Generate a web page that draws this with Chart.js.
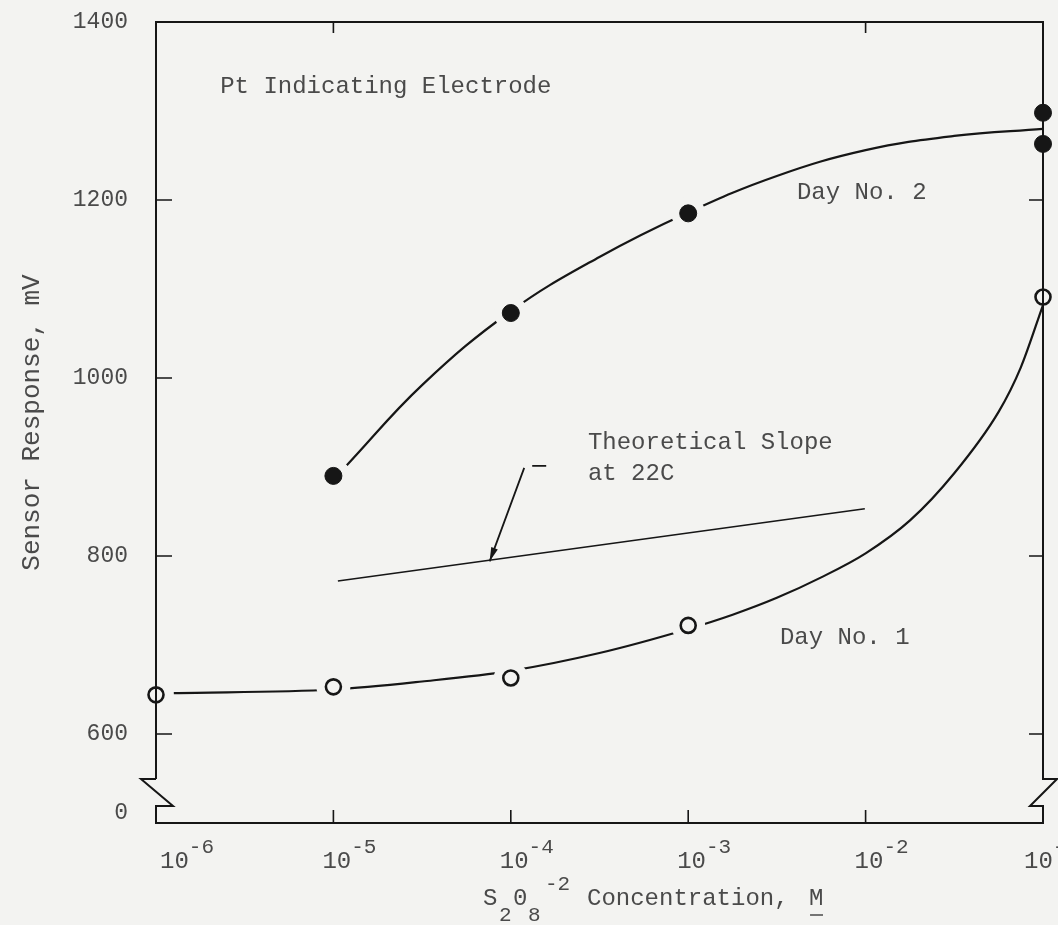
<!DOCTYPE html>
<html>
<head>
<meta charset="utf-8">
<script src="https://cdn.jsdelivr.net/npm/chart.js@4.4.1/dist/chart.umd.min.js"></script>
<style>
  html, body { margin: 0; padding: 0; background: #f3f3f1; }
  #wrap { width: 1058px; height: 925px; position: relative; }
</style>
</head>
<body>
<div id="wrap"><canvas id="c"></canvas></div>
<script>
// ---------------- data ----------------
const xTickValues    = [1e-6, 1e-5, 1e-4, 1e-3, 1e-2, 1e-1];
const xTickExponents = ['-6', '-5', '-4', '-3', '-2', '-1'];
// "0" sits just above the broken bottom of the axis (value 511 on the plotted scale)
const yTickValues = [511, 600, 800, 1000, 1200, 1400];
const yTickLabels = ['0', '600', '800', '1000', '1200', '1400'];
// inner tick marks drawn on each side of the frame
const leftTickValues   = [600, 800, 1000, 1200];
const rightTickValues  = [600, 800, 1200];
const bottomTickValues = [1e-5, 1e-4, 1e-3, 1e-2];
const topTickValues    = [1e-5, 1e-2];

// measured points
const day1Conc = [1e-6, 1e-5, 1e-4, 1e-3, 1e-1];
const day1Resp = [644, 653, 663, 722, 1091];
const day2Conc = [1e-5, 1e-4, 1e-3, 1e-1, 1e-1];
const day2Resp = [890, 1073, 1185, 1298, 1263];

// hand-drawn fitted curves
const day1CurveConc = [1.26e-6, 1e-5, 3.16e-5, 1e-4, 3.16e-4, 1e-3, 1.78e-3, 3.16e-3, 5.62e-3, 1e-2, 1.78e-2, 3.16e-2, 5.62e-2, 7.5e-2, 1e-1];
const day1CurveResp = [646, 650, 659, 671, 691, 718, 734, 753, 776, 803, 840, 893, 962, 1012, 1082];
const day2CurveConc = [1.19e-5, 3.16e-5, 1e-4, 3.16e-4, 1e-3, 3.16e-3, 1e-2, 3.16e-2, 1e-1];
const day2CurveResp = [902, 992, 1075, 1136, 1186, 1227, 1256, 1272, 1280];

// theoretical slope line at 22C
const theoConc = [1.06e-5, 9.9e-3];
const theoResp = [772, 853];

// annotation arrow (tail -> head), data units
const arrowConc = [1.19e-4, 7.6e-5];
const arrowResp = [899, 794];

// text annotations (anchor = left, middle), data units
const noteTexts = ['Pt Indicating Electrode', 'Day No. 2', 'Day No. 1', 'Theoretical Slope', 'at 22C'];
const noteConc  = [2.3e-6, 4.1e-3, 3.29e-3, 2.72e-4, 2.72e-4];
const noteResp  = [1327, 1208, 708, 927, 892];

const yTitle = 'Sensor Response, mV';

// ---------------- styles ----------------
const BG = '#f3f3f1';
const INK = '#161616';
const TXT = '#4a4a4a';
const FONT = "'Liberation Mono', 'DejaVu Sans Mono', monospace";

const toXY = (xs, ys) => xs.map((v, i) => ({ x: v, y: ys[i] }));
const allPoints = toXY(day1Conc, day1Resp).concat(toXY(day2Conc, day2Resp));

const framePlugin = {
  id: 'frame',
  beforeDraw(chart) {
    const { ctx, width, height } = chart;
    ctx.save();
    ctx.fillStyle = BG;
    ctx.fillRect(0, 0, width, height);
    ctx.restore();
  },
  afterDatasetsDraw(chart) {
    const { ctx, chartArea: { left, right, top, bottom }, scales: { x, y } } = chart;
    ctx.save();
    ctx.strokeStyle = INK;
    ctx.lineWidth = 2;
    ctx.lineJoin = 'miter';
    const zTop = bottom - 44, zBot = bottom - 17;
    ctx.beginPath();
    ctx.moveTo(left, zTop);
    ctx.lineTo(left, top);
    ctx.lineTo(right, top);
    ctx.lineTo(right, zTop);
    ctx.lineTo(right + 14, zTop);
    ctx.lineTo(right - 13, zBot);
    ctx.lineTo(right, zBot);
    ctx.lineTo(right, bottom);
    ctx.lineTo(left, bottom);
    ctx.lineTo(left, zBot);
    ctx.lineTo(left + 17, zBot);
    ctx.lineTo(left - 15, zTop);
    ctx.lineTo(left, zTop);
    ctx.stroke();

    // inner tick marks
    ctx.lineWidth = 1.6;
    ctx.beginPath();
    leftTickValues.forEach(v => {
      const py = y.getPixelForValue(v);
      ctx.moveTo(left, py); ctx.lineTo(left + 16, py);
    });
    rightTickValues.forEach(v => {
      const py = y.getPixelForValue(v);
      ctx.moveTo(right, py); ctx.lineTo(right - 14, py);
    });
    bottomTickValues.forEach(v => {
      const px = x.getPixelForValue(v);
      ctx.moveTo(px, bottom); ctx.lineTo(px, bottom - 13);
    });
    topTickValues.forEach(v => {
      const px = x.getPixelForValue(v);
      ctx.moveTo(px, top); ctx.lineTo(px, top + 11);
    });
    ctx.stroke();

    // theoretical-slope arrow
    const tx = x.getPixelForValue(arrowConc[0]), ty = y.getPixelForValue(arrowResp[0]);
    const hx = x.getPixelForValue(arrowConc[1]), hy = y.getPixelForValue(arrowResp[1]);
    ctx.lineWidth = 1.8;
    ctx.beginPath();
    ctx.moveTo(tx + 8, ty - 2); ctx.lineTo(tx + 22, ty - 2);
    ctx.moveTo(tx, ty); ctx.lineTo(hx, hy);
    ctx.stroke();
    const ang = Math.atan2(hy - ty, hx - tx);
    ctx.fillStyle = INK;
    ctx.beginPath();
    ctx.moveTo(hx, hy);
    ctx.lineTo(hx - 14 * Math.cos(ang) + 3.5 * Math.sin(ang), hy - 14 * Math.sin(ang) - 3.5 * Math.cos(ang));
    ctx.lineTo(hx - 14 * Math.cos(ang) - 3.5 * Math.sin(ang), hy - 14 * Math.sin(ang) + 3.5 * Math.cos(ang));
    ctx.closePath();
    ctx.fill();

    // text notes
    ctx.fillStyle = TXT;
    ctx.font = `24px ${FONT}`;
    ctx.textBaseline = 'middle';
    ctx.textAlign = 'left';
    noteTexts.forEach((t, i) => {
      ctx.fillText(t, x.getPixelForValue(noteConc[i]), y.getPixelForValue(noteResp[i]));
    });

    // x tick labels: 10 with raised exponent
    ctx.textBaseline = 'alphabetic';
    xTickValues.forEach((v, i) => {
      let px = x.getPixelForValue(v) - 11;
      if (i === 0) px += 15;
      if (i === xTickValues.length - 1) px -= 8;
      ctx.font = `24px ${FONT}`;
      ctx.fillText('10', px, bottom + 45);
      const w = ctx.measureText('10').width;
      ctx.font = `21px ${FONT}`;
      ctx.fillText(xTickExponents[i], px + w, bottom + 30);
    });

    // x axis title: S2O8^-2 Concentration, M (underlined)
    const bx = left + 327, by = bottom + 82;
    ctx.font = `24px ${FONT}`;
    ctx.fillText('S', bx, by);
    ctx.font = `21px ${FONT}`;
    ctx.fillText('2', bx + 16, by + 16);
    ctx.font = `24px ${FONT}`;
    ctx.fillText('0', bx + 30, by);
    ctx.font = `21px ${FONT}`;
    ctx.fillText('8', bx + 45, by + 16);
    ctx.fillText('-2', bx + 62, by - 15);
    ctx.font = `24px ${FONT}`;
    const s = 'Concentration, ';
    ctx.fillText(s, bx + 104, by);
    const mx = bx + 104 + ctx.measureText(s).width + 6;
    ctx.fillText('M', mx, by);
    ctx.strokeStyle = TXT;
    ctx.lineWidth = 1.5;
    ctx.beginPath();
    ctx.moveTo(mx + 1, by + 10); ctx.lineTo(mx + 14, by + 10);
    ctx.stroke();
    ctx.restore();
  }
};

new Chart(document.getElementById('c'), {
  type: 'scatter',
  data: {
    datasets: [
      {
        label: 'Day No. 1 curve',
        type: 'line',
        data: toXY(day1CurveConc, day1CurveResp),
        borderColor: INK, borderWidth: 2.2, pointRadius: 0,
        cubicInterpolationMode: 'monotone', fill: false, order: 5
      },
      {
        label: 'Day No. 2 curve',
        type: 'line',
        data: toXY(day2CurveConc, day2CurveResp),
        borderColor: INK, borderWidth: 2.2, pointRadius: 0,
        tension: 0.4, fill: false, order: 5
      },
      {
        label: 'Theoretical Slope at 22C',
        type: 'line',
        data: toXY(theoConc, theoResp),
        borderColor: INK, borderWidth: 1.6, pointRadius: 0, fill: false, order: 5
      },
      {
        label: 'marker gaps',
        data: allPoints,
        showLine: false,
        pointRadius: c => (c.raw && c.raw.x >= 0.1) ? 0 : 17,
        pointBackgroundColor: BG, pointBorderWidth: 0, pointBorderColor: BG,
        order: 3
      },
      {
        label: 'Day No. 1',
        data: toXY(day1Conc, day1Resp),
        showLine: false,
        pointRadius: 7.5, pointBorderWidth: 2.6,
        pointBackgroundColor: BG, pointBorderColor: INK,
        order: 1
      },
      {
        label: 'Day No. 2',
        data: toXY(day2Conc, day2Resp),
        showLine: false,
        pointRadius: 8.5, pointBorderWidth: 1,
        pointBackgroundColor: INK, pointBorderColor: INK,
        order: 1
      }
    ]
  },
  options: {
    responsive: true,
    maintainAspectRatio: false,
    animation: false,
    clip: false,
    layout: { autoPadding: false, padding: { top: 22, right: 15, left: 0, bottom: 0 } },
    plugins: { legend: { display: false }, tooltip: { enabled: false } },
    elements: { point: { hoverRadius: 0 } },
    scales: {
      x: {
        type: 'logarithmic',
        min: 1e-6, max: 1e-1,
        grid: { display: false, drawTicks: false },
        border: { display: false },
        ticks: { display: false },
        afterFit: s => { s.height = 102; s.paddingLeft = 0; s.paddingRight = 0; }
      },
      y: {
        type: 'linear',
        min: 500, max: 1400,
        grid: { display: false, drawTicks: false },
        border: { display: false },
        afterBuildTicks: s => { s.ticks = yTickValues.map(v => ({ value: v })); },
        afterFit: s => { s.width = 156; s.paddingTop = 0; s.paddingBottom = 0; },
        ticks: {
          autoSkip: false,
          padding: 28,
          color: TXT,
          font: { family: FONT, size: 23 },
          callback: (v) => yTickLabels[yTickValues.indexOf(v)]
        },
        title: {
          display: true,
          text: yTitle,
          color: TXT,
          font: { family: FONT, size: 26 },
          padding: { top: 17, bottom: 0 }
        }
      }
    }
  },
  plugins: [framePlugin]
});
</script>
</body>
</html>
